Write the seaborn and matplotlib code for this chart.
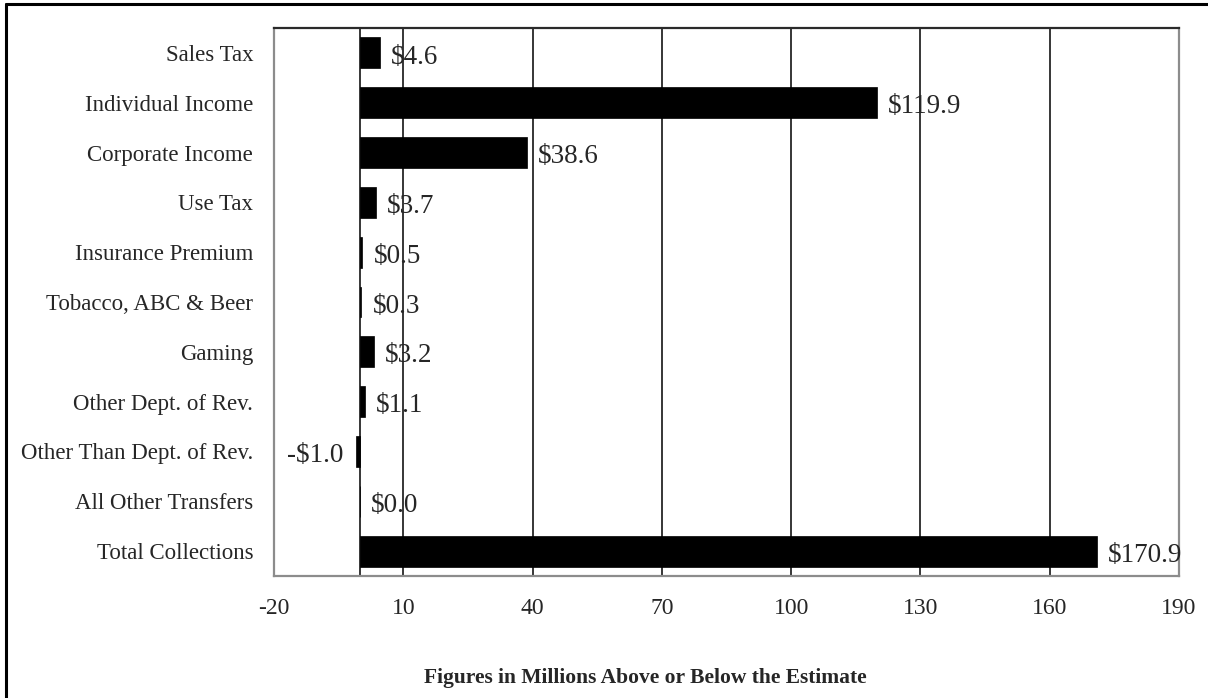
import matplotlib
matplotlib.use("Agg")
import matplotlib.pyplot as plt
import seaborn as sns
import pandas as pd
from matplotlib.lines import Line2D

# data (millions above/below estimate)
categories = [
    "Sales Tax", "Individual Income", "Corporate Income", "Use Tax",
    "Insurance Premium", "Tobacco, ABC & Beer", "Gaming",
    "Other Dept. of Rev.", "Other Than Dept. of Rev.",
    "All Other Transfers", "Total Collections",
]
values = [4.6, 119.9, 38.6, 3.7, 0.5, 0.3, 3.2, 1.1, -1.0, 0.0, 170.9]
x_ticks = [-20, 10, 40, 70, 100, 130, 160, 190]

df = pd.DataFrame({"category": categories, "value": values})

sns.set_style("white")
plt.rcParams["font.family"] = ["Liberation Serif", "DejaVu Serif"]

W, H = 1208, 698
fig = plt.figure(figsize=(W / 100, H / 100), dpi=100)
ax = fig.add_axes([274 / W, 1 - 576 / H, (1179 - 274) / W, (576 - 28) / H])

# gridlines behind the bars
for t in x_ticks:
    ax.axvline(t, color="black", linewidth=1.1, zorder=0)
ax.axvline(0, color="black", linewidth=1.1, zorder=0)

sns.barplot(data=df, x="value", y="category", orient="h", color="black",
            edgecolor="black", linewidth=0.5, width=0.62, ax=ax, zorder=2)

ax.set_xlim(-20, 190)
ax.set_xticks(x_ticks)
ax.set_xticklabels([str(t) for t in x_ticks], fontsize=17)
ax.tick_params(axis="x", length=0, pad=16)
ax.tick_params(axis="y", length=0, pad=15, labelsize=16.5)
ax.set_xlabel("")
ax.set_ylabel("")

for name, s in ax.spines.items():
    s.set_color("#2a2a2a" if name == "top" else "#8c8c8c")
    s.set_linewidth(1.6)

# value labels
for i, v in enumerate(values):
    txt = f"-${abs(v):.1f}" if v < 0 else f"${v:.1f}"
    if v < 0:
        ax.annotate(txt, (v, i), xytext=(-9, -3), textcoords="offset points",
                    ha="right", va="center", fontsize=19.5)
    else:
        ax.annotate(txt, (v, i), xytext=(8, -3), textcoords="offset points",
                    ha="left", va="center", fontsize=19.5)

fig.text(645 / W, 1 - 678 / H, "Figures in Millions Above or Below the Estimate",
         ha="center", va="center", fontsize=15.5, fontweight="bold")

# outer frame: only top and left edges fall inside the image
fig.add_artist(Line2D([6 / W, 1], [1 - 4 / H, 1 - 4 / H], transform=fig.transFigure,
                      color="black", linewidth=2.2))
fig.add_artist(Line2D([6 / W, 6 / W], [0, 1 - 4 / H], transform=fig.transFigure,
                      color="black", linewidth=2.2))

fig.savefig("out.png", dpi=100)
